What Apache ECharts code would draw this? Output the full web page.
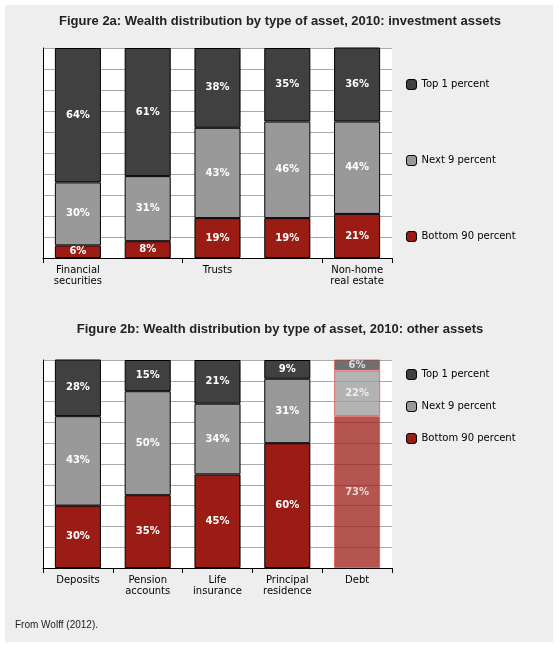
<!DOCTYPE html>
<html><head><meta charset="utf-8">
<script src="https://cdn.jsdelivr.net/npm/echarts@6/dist/echarts.min.js"></script>
<style>html,body{margin:0;background:#fff}#c{width:560px;height:647px}</style>
</head><body><div id="c"></div>
<script>
const catsA = ['Financial\nsecurities', 'Business\nequity', 'Trusts', 'Stocks and\nmutual\nfunds', 'Non-home\nreal estate'];
const bottomA = [6, 8, 19, 19, 21];
const nextA = [30, 31, 43, 46, 44];
const topA = [64, 61, 38, 35, 36];

const catsB = ['Deposits', 'Pension\naccounts', 'Life\ninsurance', 'Principal\nresidence', 'Debt'];
const bottomB = [30, 35, 45, 60, 73];
const nextB = [43, 50, 34, 31, 22];
const topB = [28, 15, 21, 9, 6];

const names = ['Top 1 percent', 'Next 9 percent', 'Bottom 90 percent'];
const colors = { 'Top 1 percent': '#404040', 'Next 9 percent': '#999999', 'Bottom 90 percent': '#9b1c14' };
const font = 'DejaVu Sans, Verdana, sans-serif';

const chart = echarts.init(document.getElementById('c'));

function axes(i) {
  return {
    x: {
      type: 'category', gridIndex: i, data: i ? catsB : catsA,
      axisLine: { lineStyle: { color: '#000' } },
      axisTick: { show: true, length: 5, lineStyle: { color: '#000' } },
      axisLabel: { color: '#000', fontFamily: font, fontSize: 10, lineHeight: 11, margin: 7 }
    },
    y: {
      type: 'value', gridIndex: i, min: 0, max: 100, interval: 10,
      axisLine: { show: true, lineStyle: { color: '#000' } },
      axisTick: { show: false },
      axisLabel: { show: false },
      splitLine: { lineStyle: { color: '#aaaaaa' } }
    }
  };
}

function series(i, vals, name, debt) {
  return {
    type: 'bar', name, stack: 's' + i, xAxisIndex: i, yAxisIndex: i,
    barWidth: '66%',
    data: vals.map((v, k) => {
      const d = { value: v };
      if (debt && k === 4) d.itemStyle = { opacity: 0.75, borderColor: '#e05050' };
      return d;
    }),
    itemStyle: { color: colors[name], borderColor: '#000', borderWidth: 1 },
    label: {
      show: true, color: '#fff', fontFamily: font, fontSize: 10, fontWeight: 'bold',
      formatter: p => p.value + '%'
    }
  };
}

const a0 = axes(0), a1 = axes(1);
chart.setOption({
  animation: false,
  graphic: [
    { type: 'rect', shape: { x: 5, y: 5, width: 548, height: 637 }, style: { fill: '#eeeeee' }, z: -10 },
    { type: 'text', left: 'center', top: 15, style: { text: 'Figure 2a: Wealth distribution by type of asset, 2010: investment assets', font: 'bold 13px Arial, Liberation Sans, sans-serif', fill: '#222' } },
    { type: 'text', left: 'center', top: 323, style: { text: 'Figure 2b: Wealth distribution by type of asset, 2010: other assets', font: 'bold 13px Arial, Liberation Sans, sans-serif', fill: '#222' } },
    { type: 'text', left: 15, top: 620, style: { text: 'From Wolff (2012).', font: '10px Arial, Liberation Sans, sans-serif', fill: '#222' } }
  ],
  grid: [
    { left: 43, top: 48, width: 349, height: 210, show: true, backgroundColor: '#fff', borderWidth: 0 },
    { left: 43, top: 360, width: 349, height: 208, show: true, backgroundColor: '#fff', borderWidth: 0 }
  ],
  legend: [
    { data: names, orient: 'vertical', left: 401, top: 74, itemGap: 65, itemWidth: 10, itemHeight: 10,
      textStyle: { fontFamily: font, fontSize: 10, color: '#000' }, itemStyle: { borderColor: '#000', borderWidth: 1 } },
    { data: names, orient: 'vertical', left: 401, top: 364, itemGap: 21, itemWidth: 10, itemHeight: 10,
      textStyle: { fontFamily: font, fontSize: 10, color: '#000' }, itemStyle: { borderColor: '#000', borderWidth: 1 } }
  ],
  xAxis: [a0.x, a1.x],
  yAxis: [a0.y, a1.y],
  series: [
    series(0, bottomA, 'Bottom 90 percent'),
    series(0, nextA, 'Next 9 percent'),
    series(0, topA, 'Top 1 percent'),
    series(1, bottomB, 'Bottom 90 percent', true),
    series(1, nextB, 'Next 9 percent', true),
    series(1, topB, 'Top 1 percent', true)
  ]
});
</script></body></html>
